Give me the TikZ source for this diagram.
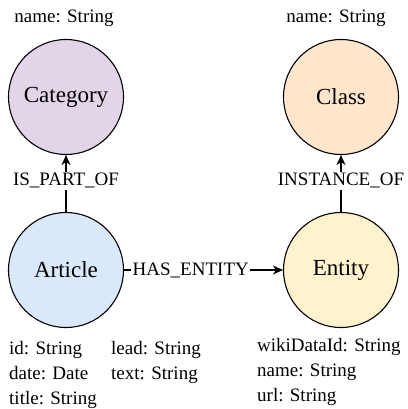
\documentclass[tikz,border=0pt]{standalone}
\usepackage{fontspec}
\setmainfont{Liberation Serif}
\usetikzlibrary{arrows.meta}

\definecolor{catfill}{HTML}{E1D5E7}
\definecolor{classfill}{HTML}{FFE6CC}
\definecolor{articlefill}{HTML}{DAE8FC}
\definecolor{entityfill}{HTML}{FFF2CC}

\tikzset{
  nodetype/.style={circle, draw, line width=1.1pt, minimum size=115pt, inner sep=0pt,
                   font=\fontsize{23}{27}\selectfont},
  rel/.style={-{Stealth[length=10pt,width=9pt,inset=3pt]}, line width=1.1pt},
  rellabel/.style={fill=white, inner sep=1.5pt, font=\fontsize{19}{23}\selectfont},
  attrs/.style={align=left, inner sep=0pt, font=\fontsize{19}{25}\selectfont},
}

\begin{document}
\begin{tikzpicture}[x=1pt,y=-1pt]
        \useasboundingbox (0,0) rectangle (407,409);
        \node[nodetype, fill=catfill] (category) at (66,97) {Category};
        \node[nodetype, fill=classfill] (class) at (341,97) {Class};
        \node[nodetype, fill=articlefill] (article) at (66,270) {Article};
        \node[nodetype, fill=entityfill] (entity) at (341,270) {Entity};
        % properties
        \node[attrs] (catprops) at (64,18) {name: String};
        \node[attrs] (classprops) at (336,18) {name: String};
        \node[attrs, anchor=north west] (artpropsa) at (9,341) {id: String\\date: Date\\title: String};
        \node[attrs, anchor=north west] (artpropsb) at (111,341) {lead: String\\text: String};
        \node[attrs, anchor=north west] (entprops) at (257,338) {wikiDataId: String\\name: String\\url: String};
        % relations
        \draw[rel] (article) -- node[rellabel, pos=0.55] {IS\_PART\_OF} (category);
        \draw[rel] (entity) -- node[rellabel, pos=0.55] {INSTANCE\_OF} (class);
        \draw[rel] (article) -- node[rellabel, pos=0.42] {HAS\_ENTITY} (entity);
    \end{tikzpicture}
\end{document}
